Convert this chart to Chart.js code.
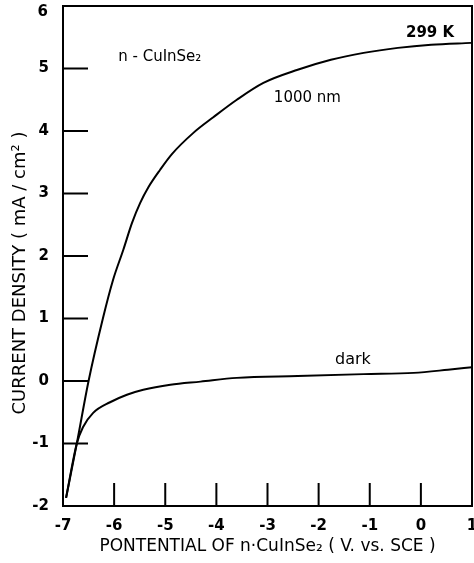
<!DOCTYPE html>
<html>
<head>
<meta charset="utf-8">
<script src="https://cdn.jsdelivr.net/npm/chart.js@4.4.1/dist/chart.umd.min.js"></script>
<style>
  html, body { margin: 0; padding: 0; background: #fff; }
  #wrap { width: 474px; height: 563px; }
</style>
</head>
<body>
<div id="wrap"><canvas id="c" width="474" height="563"></canvas></div>
<script>
// illuminated curve (1000 nm)
const lightX = [-6.94, -6.73, -6.5, -6.22, -6.02, -5.82, -5.65, -5.49, -5.33, -5.1, -4.87, -4.45, -4.06, -3.6, -3.08, -2.41, -1.76, -1.12, -0.45, 0.2, 0.98];
const lightY = [-1.87, -1.0, 0.0, 1.0, 1.62, 2.1, 2.53, 2.85, 3.1, 3.38, 3.63, 3.97, 4.22, 4.5, 4.77, 4.98, 5.14, 5.25, 5.33, 5.38, 5.41];
// dark curve
const darkX = [-6.94, -6.73, -6.61, -6.41, -6.08, -5.75, -5.43, -4.9, -4.31, -3.6, -2.41, -1.12, -0.14, 0.53, 1.0];
const darkY = [-1.87, -1.0, -0.74, -0.51, -0.34, -0.22, -0.14, -0.06, -0.01, 0.05, 0.08, 0.11, 0.13, 0.18, 0.22];

const xTickMarks = [-6, -5, -4, -3, -2, -1, 0];
const yTickMarks = [-1, 0, 1, 2, 3, 4, 5];
const yTitle = 'CURRENT DENSITY ( mA / cm\u00b2 )';
const xTitle = 'PONTENTIAL OF n\u00b7CuInSe\u2082 ( V. vs. SCE )';

const notes = [
  { text: 'n - CuInSe\u2082', x: -5.92, y: 5.18 },
  { text: '299 K', x: 0.18, y: 5.57 },
  { text: '1000 nm', x: -2.22, y: 4.53 },
  { text: 'dark', x: -1.33, y: 0.34 }
];

const toPts = (xs, ys) => xs.map((x, i) => ({ x: x, y: ys[i] }));
const FONT = '"DejaVu Sans", sans-serif';
const TICK_SIZE = 15;
const noteFonts = ['15px ' + FONT, 'bold 15px ' + FONT, '15px ' + FONT, '16px ' + FONT];
const noteAlign = ['left', 'center', 'center', 'center'];

const frame = {
  id: 'frame',
  afterDraw(chart) {
    const { ctx, chartArea: a, scales } = chart;
    ctx.save();
    ctx.strokeStyle = '#000';
    ctx.lineWidth = 2;
    ctx.strokeRect(a.left, a.top, a.right - a.left, a.bottom - a.top);
    // inward tick marks
    ctx.beginPath();
    yTickMarks.forEach(v => {
      const py = scales.y.getPixelForValue(v);
      ctx.moveTo(a.left, py);
      ctx.lineTo(a.left + 25, py);
    });
    xTickMarks.forEach(v => {
      const px = scales.x.getPixelForValue(v);
      ctx.moveTo(px, a.bottom);
      ctx.lineTo(px, a.bottom - 23);
    });
    ctx.stroke();
    ctx.fillStyle = '#000';
    // top y label sits just below the frame corner
    ctx.font = 'bold ' + TICK_SIZE + 'px ' + FONT;
    ctx.textAlign = 'right';
    ctx.textBaseline = 'middle';
    ctx.fillText(String(scales.y.max), a.left - 15, a.top + 6);
    // y axis title
    ctx.save();
    ctx.font = '18px ' + FONT;
    ctx.textAlign = 'center';
    ctx.translate(20, (a.top + a.bottom) / 2 + 17);
    ctx.rotate(-Math.PI / 2);
    ctx.fillText(yTitle, 0, 0);
    ctx.restore();
    // text labels
    notes.forEach((n, i) => {
      ctx.font = noteFonts[i];
      ctx.textAlign = noteAlign[i];
      ctx.fillText(n.text, scales.x.getPixelForValue(n.x), scales.y.getPixelForValue(n.y));
    });
    ctx.restore();
  }
};

new Chart(document.getElementById('c'), {
  type: 'scatter',
  data: {
    datasets: [
      { label: '1000 nm', data: toPts(lightX, lightY), showLine: true, borderColor: '#000', borderWidth: 2, pointRadius: 0, cubicInterpolationMode: 'monotone' },
      { label: 'dark', data: toPts(darkX, darkY), showLine: true, borderColor: '#000', borderWidth: 2, pointRadius: 0, cubicInterpolationMode: 'monotone' }
    ]
  },
  options: {
    responsive: false,
    animation: false,
    layout: { padding: { top: 6, right: 2, left: 0, bottom: 0 } },
    plugins: { legend: { display: false }, tooltip: { enabled: false } },
    scales: {
      x: {
        min: -7, max: 1,
        grid: { display: false, drawTicks: false },
        border: { display: false },
        ticks: { stepSize: 1, color: '#000', padding: 11, font: { family: FONT, size: TICK_SIZE, weight: 'bold' }, maxRotation: 0 },
        title: { display: true, text: xTitle, color: '#000', font: { family: FONT, size: 17 }, padding: { top: 2, bottom: 6 } },
        afterFit(s) { s.height = 57; s.paddingLeft = 0; s.paddingRight = 0; }
      },
      y: {
        min: -2, max: 6,
        grid: { display: false, drawTicks: false },
        border: { display: false },
        ticks: {
          stepSize: 1, color: '#000', padding: 14, font: { family: FONT, size: TICK_SIZE, weight: 'bold' },
          callback: v => (v === 6 ? '' : v)
        },
        afterFit(s) { s.width = 63; s.paddingTop = 0; s.paddingBottom = 0; }
      }
    }
  },
  plugins: [frame]
});
</script>
</body>
</html>
